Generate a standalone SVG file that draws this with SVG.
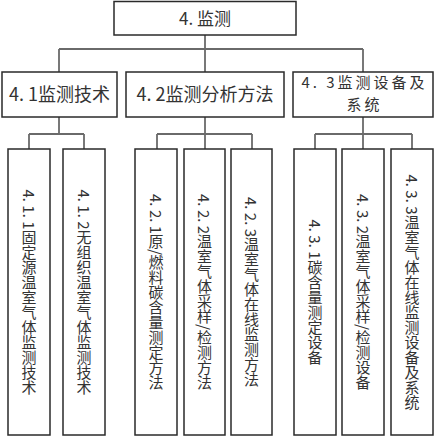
<svg xmlns="http://www.w3.org/2000/svg" width="435" height="437" viewBox="0 0 435 437">
<style>
.box{fill:#fff;stroke:#2a2a2a;stroke-width:1.5}
.t{font-family:"Noto Sans CJK SC","Liberation Serif",serif;fill:#333;text-anchor:middle}
.h{font-size:18px}
.h2{font-size:15px;letter-spacing:3px}
.v{font-size:15px;writing-mode:tb}
.c{fill:none;stroke:#6a6a6a;stroke-width:1.8}
</style>
<rect width="435" height="437" fill="#fff"/>
<g id="connectors">
<path class="c" d="M205 35V49M59 49H363M59 49V72M205 49V72M363 49V72"/>
<path class="c" d="M59 117V134M29 134H84M29 134V149M84 134V149"/>
<path class="c" d="M205 117V134M157 134H252M157 134V149M205 134V149M252 134V149"/>
<path class="c" d="M363 117V134M315 134H412M315 134V149M363 134V149M412 134V149"/>
</g>
<g id="n4"><rect class="box" x="114" y="1.5" width="182" height="33.5"/><text class="t" style="font-size:17px" x="205" y="25">4. 监测</text></g>
<g id="n41"><rect class="box" x="2" y="72" width="115" height="45"/><text class="t h" x="59.5" y="101">4. 1监测技术</text></g>
<g id="n42"><rect class="box" x="126" y="72" width="158" height="45"/><text class="t h" x="205" y="101">4. 2监测分析方法</text></g>
<g id="n43"><rect class="box" x="293" y="72" width="140" height="45"/><text class="t h2"><tspan x="364.5" y="88">4. 3监测设备及</tspan><tspan x="364.5" y="110">系统</tspan></text></g>
<g id="n411"><rect class="box" x="8" y="149" width="42" height="286"/><text class="t v" x="29" y="292">4. 1. 1固定源温室气体监测技术</text></g>
<g id="n412"><rect class="box" x="63" y="149" width="42" height="286"/><text class="t v" x="84" y="292">4. 1. 2无组织温室气体监测技术</text></g>
<g id="n421"><rect class="box" x="135" y="149" width="42" height="286"/><text class="t v" x="156" y="292">4. 2. 1原/燃料碳含量测定方法</text></g>
<g id="n422"><rect class="box" x="184" y="149" width="41" height="286"/><text class="t v" x="204.5" y="292">4. 2. 2温室气体采样/检测方法</text></g>
<g id="n423"><rect class="box" x="231" y="149" width="41" height="286"/><text class="t v" x="251.5" y="292">4. 2. 3温室气体在线监测方法</text></g>
<g id="n431"><rect class="box" x="294" y="149" width="42" height="286"/><text class="t v" x="315" y="292">4. 3. 1碳含量测定设备</text></g>
<g id="n432"><rect class="box" x="342" y="149" width="42" height="286"/><text class="t v" x="363" y="292">4. 3. 2温室气体采样/检测设备</text></g>
<g id="n433"><rect class="box" x="391" y="149" width="42" height="286"/><text class="t v" x="412" y="292">4. 3. 3温室气体在线监测设备及系统</text></g>
</svg>
